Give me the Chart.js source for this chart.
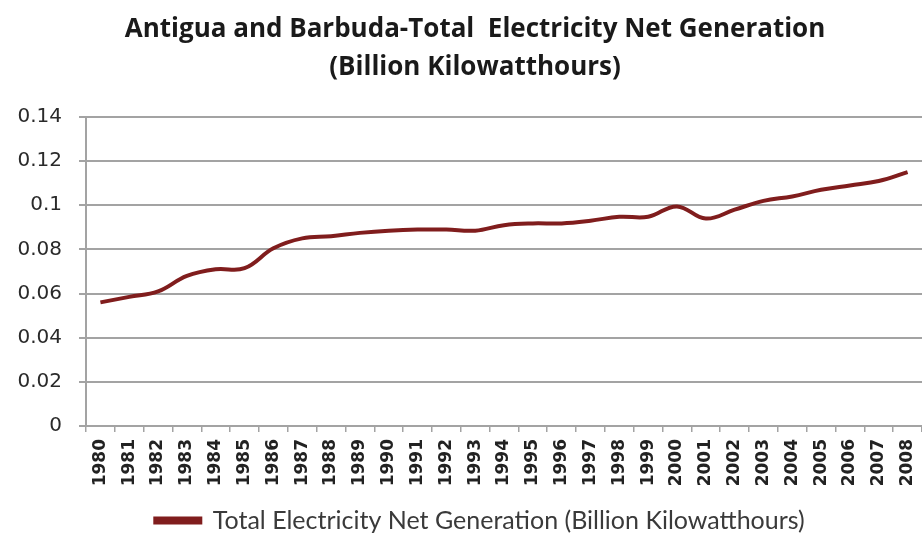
<!DOCTYPE html>
<html>
<head>
<meta charset="utf-8">
<title>Antigua and Barbuda - Electricity Net Generation</title>
<script src="https://cdn.jsdelivr.net/npm/chart.js"></script>
<style>
  html, body { margin: 0; padding: 0; background: #fff; }
  #wrap { width: 922px; height: 533px; }
</style>
</head>
<body>
<div id="wrap"><canvas id="chart" width="922" height="533"></canvas></div>
<script>
const years = [
  "1980","1981","1982","1983","1984","1985","1986","1987","1988","1989",
  "1990","1991","1992","1993","1994","1995","1996","1997","1998","1999",
  "2000","2001","2002","2003","2004","2005","2006","2007","2008"
];
const netGeneration = [
  0.056, 0.0585, 0.061, 0.068, 0.071, 0.0715, 0.0805, 0.085, 0.086, 0.0875,
  0.0885, 0.089, 0.089, 0.0885, 0.091, 0.0918, 0.0918, 0.093, 0.0948, 0.0948,
  0.0995, 0.094, 0.098, 0.102, 0.104, 0.107, 0.109, 0.111, 0.115
];
const yTicks = [0, 0.02, 0.04, 0.06, 0.08, 0.1, 0.12, 0.14];

const seriesName = "Total Electricity Net Generation (Billion Kilowatthours)";
const titleLines = ["Antigua and Barbuda-Total  Electricity Net Generation", "(Billion Kilowatthours)"];

const gridGray = "#a3a3a3";
const lineRed = "#801d1d";

// nudge title and legend right so they sit over the plot rather than the canvas
const shiftBlocks = {
  id: "shiftBlocks",
  afterLayout(chart) {
    const t = chart.titleBlock, l = chart.legend;
    if (t) { t.left += 14; t.right += 14; }
    if (l) { l.left += 19; l.right += 19; }
  }
};

new Chart(document.getElementById("chart").getContext("2d"), {
  type: "line",
  data: {
    labels: years,
    datasets: [{
      label: seriesName,
      data: netGeneration,
      borderColor: lineRed,
      backgroundColor: lineRed,
      borderWidth: 4,
      pointRadius: 0,
      tension: 0.4,
      fill: false
    }]
  },
  options: {
    responsive: false,
    animation: false,
    // legend hangs slightly past the bottom edge
    layout: { padding: { left: 0, right: 0, top: 0, bottom: -10 } },
    plugins: {
      title: {
        display: true,
        text: titleLines,
        color: "#1a1a1a",
        font: { family: "Open Sans", size: 26, weight: "bold", lineHeight: 1.4615 },
        padding: { top: 11, bottom: 30 }
      },
      legend: {
        position: "bottom",
        labels: {
          color: "#3a3a3a",
          font: { family: "Lato", size: 25 },
          boxWidth: 45,
          boxHeight: 4,
          padding: 2
        }
      },
      tooltip: { enabled: false }
    },
    scales: {
      x: {
        offset: true,
        grid: {
          offset: true,
          drawOnChartArea: false,
          drawTicks: true,
          tickLength: 6,
          color: gridGray,
          lineWidth: 1.5
        },
        border: { color: gridGray, width: 2 },
        ticks: {
          autoSkip: false,
          minRotation: 90,
          maxRotation: 90,
          color: "#222",
          padding: 7,
          font: { family: "DejaVu Sans", size: 17, weight: "bold" }
        },
        afterFit(scale) {
          scale.height = 80;
          scale.paddingLeft = 0;
          scale.paddingRight = 0;
        }
      },
      y: {
        min: 0,
        max: 0.14,
        afterBuildTicks(scale) { scale.ticks = yTicks.map(v => ({ value: v })); },
        grid: {
          color: gridGray,
          lineWidth: 2,
          tickLength: 7
        },
        border: { color: gridGray, width: 2 },
        ticks: {
          color: "#2a2a2a",
          padding: 17,
          font: { family: "DejaVu Sans", size: 20 },
          callback: v => String(Number(v.toFixed(2)))
        },
        afterFit(scale) { scale.width = 86; }
      }
    }
  },
  plugins: [shiftBlocks]
});
</script>
</body>
</html>
